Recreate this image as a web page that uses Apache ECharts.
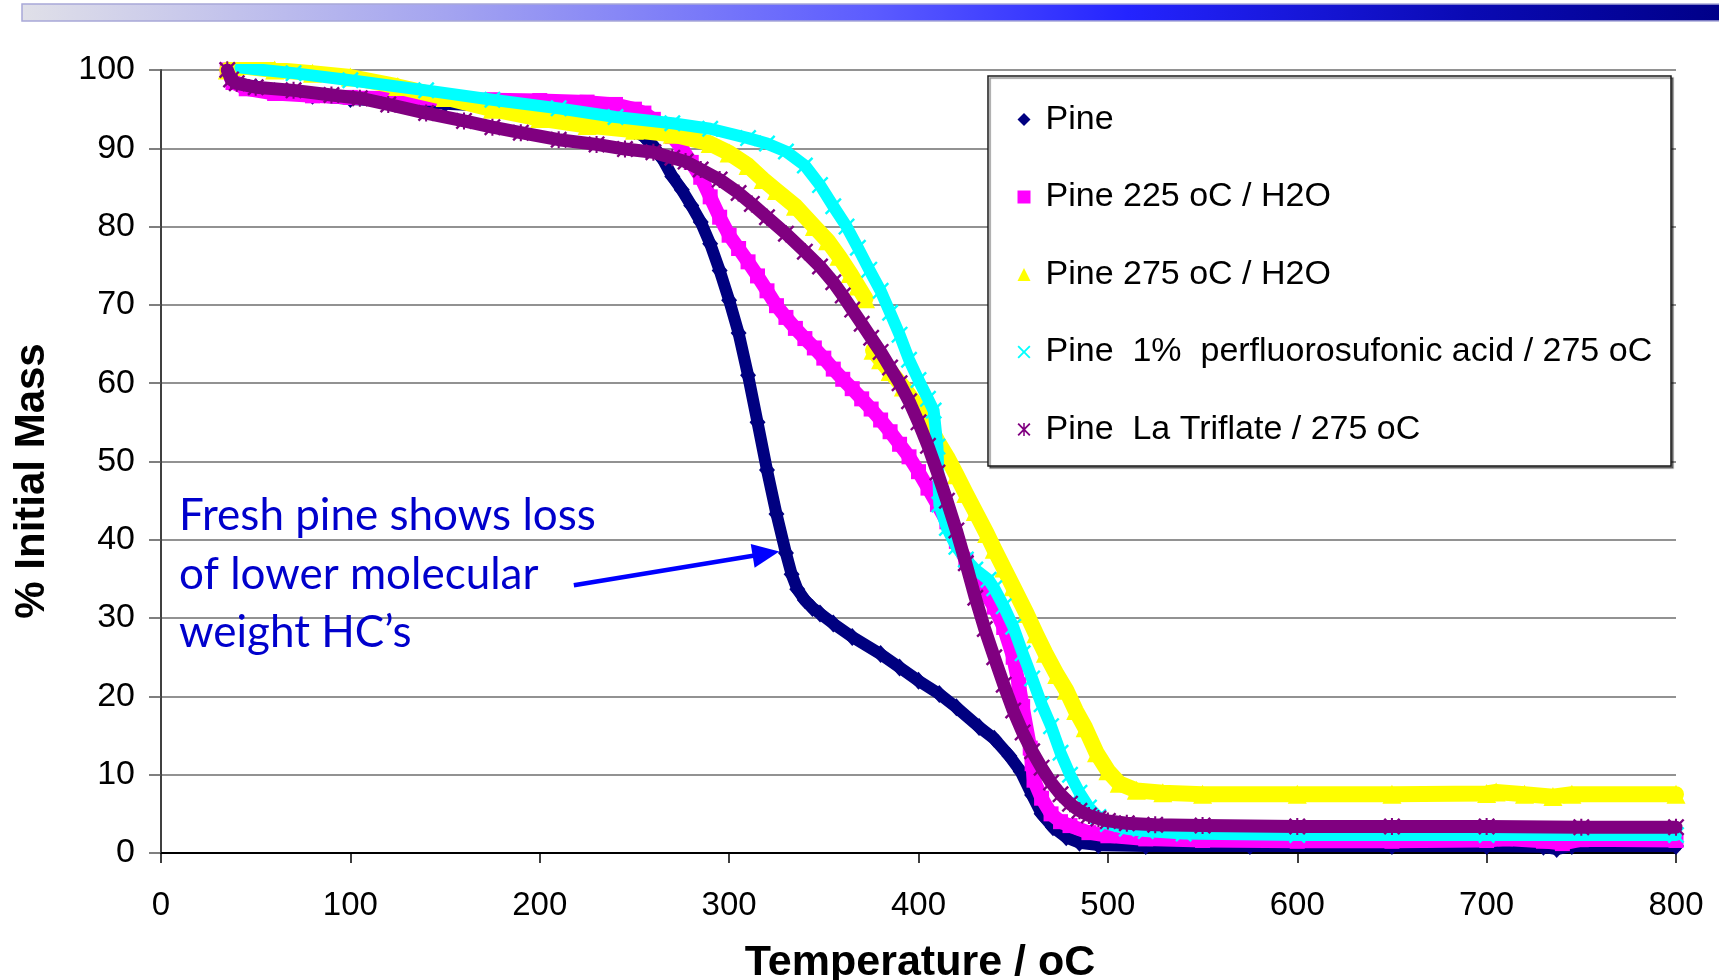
<!DOCTYPE html>
<html>
<head>
<meta charset="utf-8">
<title>TGA of treated pine</title>
<script src="https://cdn.jsdelivr.net/npm/echarts@6/dist/echarts.min.js"></script>
<style>
  html, body { margin: 0; padding: 0; background: #ffffff; overflow: hidden; }
  #chart { width: 1719px; height: 980px; }
</style>
</head>
<body>
<div id="chart"></div>
<script>
// Thermogravimetric curves: [temperature °C, % initial mass]
const seriesNames = [
  'Pine',
  'Pine 225 oC / H2O',
  'Pine 275 oC / H2O',
  'Pine  1%  perfluorosufonic acid / 275 oC',
  'Pine  La Triflate / 275 oC'
];

const pine = [
  [35,100],[40,98.4],[50,97.8],[60,97.3],[80,96.7],[100,96.3],[125,96.0],[150,95.7],
  [175,95.4],[200,95.0],[220,94.6],[235,94.0],[245,93.0],[250,92.2],[255,91.5],[260,90.3],
  [265,88.6],[270,86.4],[275,84.7],[280,82.7],[285,80.6],[290,77.8],[295,74.4],[300,70.6],
  [305,66.4],[310,61.0],[315,55.0],[320,48.9],[325,43.3],[330,38.3],[333,35.6],[336,33.7],
  [340,32.3],[344,31.3],[348,30.6],[355,29.3],[365,27.6],[380,25.4],[390,23.7],[400,22.0],
  [411,20.3],[420,18.6],[432,16.1],[440,14.6],[448,12.4],[454,10.4],[460,7.4],[465,5.0],
  [471,3.3],[478,2.0],[485,1.3],[495,1.0],[520,0.9],[575,0.9],[650,0.9],[700,0.9],
  [730,0.8],[737,0.5],[745,0.9],[800,0.9]
];

const pine225 = [
  [35,100],[38,98.4],[45,97.6],[60,97.0],[80,96.7],[100,96.5],[125,96.4],[150,96.3],
  [175,96.2],[200,96.1],[225,95.9],[240,95.6],[250,95.0],[255,94.5],[260,93.7],[265,92.7],
  [270,91.5],[275,90.0],[280,88.2],[285,86.3],[290,83.8],[295,81.2],[300,78.9],[305,77.2],
  [310,75.5],[315,73.7],[320,71.8],[325,69.9],[330,68.4],[335,67.0],[340,65.7],[345,64.5],
  [350,63.2],[355,61.8],[360,60.5],[365,59.3],[370,58.0],[375,56.7],[380,55.3],[385,53.8],
  [390,52.2],[395,50.6],[400,48.7],[405,46.6],[410,44.5],[415,42.3],[420,39.8],[425,37.4],
  [430,35.4],[435,33.4],[440,31.4],[445,28.8],[450,25.0],[453,21.5],[455,18.7],[459,13.4],
  [460,11.4],[461,9.3],[465,7.0],[470,5.0],[475,4.0],[480,3.5],[490,2.6],[500,2.2],
  [520,1.8],[550,1.6],[600,1.5],[650,1.5],[700,1.6],[710,1.8],[730,1.5],[740,1.2],
  [750,1.7],[800,1.6]
];

const pine275 = [
  [35,100],[45,100.4],[60,100.0],[80,99.6],[100,99.1],[125,97.9],[150,96.5],[175,95.0],
  [200,93.8],[225,92.9],[250,92.3],[270,91.8],[290,90.6],[300,89.4],[310,87.8],[318,86.0],
  [325,84.6],[335,82.6],[345,80.0],[352,78.2],[358,76.2],[364,74.0],[368,72.4],[372,70.8],
  [373.5,'-'],
  [376,64.2],[380,63.0],[385,61.5],[392,59.5],[400,56.8],[405,54.8],[410,52.6],[415,50.6],
  [420,48.3],[425,45.9],[430,43.6],[436,40.8],[440,38.8],[445,36.4],[450,34.0],[457,30.6],
  [462,28.0],[467,25.5],[473,22.8],[478,20.8],[483,18.2],[488,16.0],[494,12.8],[500,10.5],
  [506,8.9],[515,8.0],[529,7.7],[550,7.5],[600,7.5],[650,7.5],[700,7.6],[705,7.8],
  [720,7.5],[735,7.2],[745,7.5],[800,7.5]
];

const pineAcid = [
  [42,100.3],[50,100.1],[70,99.6],[100,98.7],[140,97.4],[175,96.2],[210,95.1],[240,94.0],
  [270,93.2],[290,92.5],[310,91.3],[320,90.6],[330,89.6],[340,87.8],[348,85.3],[355,82.6],
  [362,80.0],[368,77.3],[374,74.5],[380,71.8],[385,69.0],[390,66.2],[395,63.0],[400,60.4],
  [405,58.0],[408,56.5],[410,51.9],[411,44.5],[415,41.5],[420,39.1],[425,37.5],[430,36.2],
  [437,34.9],[440,33.8],[445,31.5],[450,28.9],[455,25.5],[460,22.3],[465,19.0],[470,16.2],
  [475,12.8],[480,10.0],[485,7.7],[490,5.8],[495,4.6],[500,3.7],[510,3.1],[520,2.8],
  [540,2.5],[600,2.3],[700,2.3],[800,2.3]
];

const pineTriflate = [
  [35,100],[37,98.8],[40,98.3],[50,97.8],[70,97.4],[90,96.8],[105,96.4],[120,95.6],
  [140,94.5],[160,93.5],[175,92.7],[190,92.0],[210,91.1],[230,90.5],[245,89.9],[260,89.5],
  [270,88.8],[277,88.3],[285,87.3],[295,86.0],[305,84.3],[312,82.9],[320,81.2],[330,79.1],
  [340,76.8],[348,74.9],[355,72.9],[360,71.2],[365,69.4],[370,67.6],[375,65.8],[380,64.0],
  [385,62.0],[390,60.0],[395,57.7],[400,55.0],[405,52.0],[410,48.6],[415,45.0],[420,41.2],
  [425,37.0],[430,32.6],[435,28.6],[440,25.0],[445,21.5],[450,18.2],[455,15.4],[460,13.0],
  [465,10.9],[470,9.0],[475,7.5],[480,6.3],[485,5.4],[490,4.8],[495,4.4],[500,4.1],
  [510,3.8],[525,3.6],[550,3.5],[600,3.4],[650,3.4],[700,3.4],[750,3.3],[800,3.3]
];

const xTicks = [0, 100, 200, 300, 400, 500, 600, 700, 800];
const yTicks = [0, 10, 20, 30, 40, 50, 60, 70, 80, 90, 100];

const xTitle = 'Temperature / oC';
const yTitle = '% Initial Mass';
const noteLines = ['Fresh pine shows loss', 'of lower molecular', 'weight HC\u2019s'];
// arrow from the note to the Pine curve, in data units
const arrowFrom = [218, 34.2];
const arrowTo = [326.5, 38.5];

// marker shapes
const crossMark = 'path://M1,0L5,4L9,0L10,1L6,5L10,9L9,10L5,6L1,10L0,9L4,5L0,1Z';
const starMark = 'path://M1,0L5,4L9,0L10,1L6,5L10,9L9,10L5,6L1,10L0,9L4,5L0,1Z M4.4,0L5.6,0L5.6,10L4.4,10Z';

const styles = [
  { data: pine,         color: '#000080', symbol: 'diamond',  size: [16, 18], width: 12 },
  { data: pine225,      color: '#FF00FF', symbol: 'rect',     size: 15,       width: 14 },
  { data: pine275,      color: '#FFFF00', symbol: 'triangle', size: 19,       width: 16 },
  { data: pineAcid,     color: '#00FFFF', symbol: crossMark,  size: 17,       width: 12 },
  { data: pineTriflate, color: '#800080', symbol: starMark,   size: 17,       width: 13 }
];

const FONT = '"Liberation Sans", Arial, sans-serif';

const chart = echarts.init(document.getElementById('chart'), null, { renderer: 'canvas' });

const option = {
  backgroundColor: '#ffffff',
  animation: false,
  grid: { left: 161, right: 43, top: 70, bottom: 127, containLabel: false, outerBoundsMode: 'none' },
  xAxis: {
    type: 'value',
    min: xTicks[0],
    max: xTicks[xTicks.length - 1],
    interval: xTicks[1] - xTicks[0],
    axisLine: { show: true, lineStyle: { color: '#000', width: 2 } },
    axisTick: { show: true, length: 10, lineStyle: { color: '#000', width: 1.5 } },
    axisLabel: { fontFamily: FONT, fontSize: 33, color: '#000', margin: 36 },
    splitLine: { show: false }
  },
  yAxis: {
    type: 'value',
    min: yTicks[0],
    max: yTicks[yTicks.length - 1],
    interval: yTicks[1] - yTicks[0],
    axisLine: { show: true, lineStyle: { color: '#404040', width: 2 } },
    axisTick: { show: true, inside: false, length: 12, lineStyle: { color: '#555', width: 1.5 } },
    axisLabel: { fontFamily: FONT, fontSize: 34, color: '#000', margin: 26 },
    splitLine: { show: true, lineStyle: { color: '#6e6e6e', width: 1.6 } }
  },
  legend: {
    orient: 'vertical',
    left: 1017.5,
    top: 102.5,
    padding: 0,
    itemGap: 43.5,
    itemWidth: 13,
    itemHeight: 13,
    selectedMode: false,
    z: 6,
    textStyle: { fontFamily: FONT, fontSize: 34, lineHeight: 34, color: '#000', padding: [0, 0, 0, 10] },
    data: seriesNames.map((n, i) => ({ name: n, icon: styles[i].symbol }))
  },
  series: styles.map((s, i) => ({
    name: seriesNames[i],
    type: 'line',
    data: s.data,
    symbol: s.symbol,
    symbolSize: s.size,
    showSymbol: true,
    showAllSymbol: true,
    connectNulls: false,
    clip: true,
    z: 2 + i * 0.1,
    itemStyle: { color: s.color, borderWidth: 0 },
    lineStyle: { color: s.color, width: s.width, cap: 'round', join: 'round' },
    emphasis: { disabled: true }
  }))
};

chart.setOption(option);

// overlay: title bar, axis titles, legend frame, note and arrow
const p0 = chart.convertToPixel({ gridIndex: 0 }, arrowFrom);
const p1 = chart.convertToPixel({ gridIndex: 0 }, arrowTo);
const dx = p1[0] - p0[0], dy = p1[1] - p0[1];
const len = Math.sqrt(dx * dx + dy * dy);
const ux = dx / len, uy = dy / len;
const headLen = 27, headHalf = 12;
const base = [p1[0] - ux * headLen, p1[1] - uy * headLen];
const head = [
  [p1[0], p1[1]],
  [base[0] - uy * headHalf, base[1] + ux * headHalf],
  [base[0] + uy * headHalf, base[1] - ux * headHalf]
];

chart.setOption({
  graphic: [
    {
      type: 'rect', id: 'titleBar', z: 10,
      shape: { x: 22, y: 4, width: 1700, height: 17 },
      style: {
        fill: new echarts.graphic.LinearGradient(0, 0, 1, 0, [
          { offset: 0, color: '#e0e0e8' },
          { offset: 0.25, color: '#a4a4f0' },
          { offset: 0.5, color: '#5c5cff' },
          { offset: 0.65, color: '#2424ff' },
          { offset: 0.85, color: '#0a0ab4' },
          { offset: 1, color: '#000088' }
        ]),
        stroke: '#a8a8d8', lineWidth: 1.5
      }
    },
    {
      type: 'text', id: 'xTitle', z: 10,
      x: 920, y: 963,
      style: {
        text: xTitle, fontFamily: FONT, fontSize: 43, fontWeight: 'bold', fill: '#000',
        align: 'center', verticalAlign: 'middle'
      }
    },
    {
      type: 'text', id: 'yTitle', z: 10,
      x: 32, y: 481, rotation: Math.PI / 2,
      style: {
        text: yTitle, fontFamily: FONT, fontSize: 42, fontWeight: 'bold', fill: '#000',
        align: 'center', verticalAlign: 'middle'
      }
    },
    {
      type: 'rect', id: 'legendFrame', z: 5,
      shape: { x: 988, y: 76, width: 683, height: 390 },
      style: { fill: '#ffffff', stroke: '#1a1a1a', lineWidth: 1.5,
               shadowColor: 'rgba(0,0,0,0.45)', shadowOffsetX: 2, shadowOffsetY: 2, shadowBlur: 1 }
    },
    {
      type: 'text', id: 'note', z: 10,
      left: 179, top: 487,
      style: {
        text: noteLines.join('\n'),
        fontFamily: 'Lato, "Open Sans", sans-serif',
        fontSize: 44,
        lineHeight: 58.5,
        fill: '#0000CC'
      }
    },
    {
      type: 'line', id: 'arrowShaft', z: 10,
      shape: { x1: p0[0], y1: p0[1], x2: base[0] + ux * 2, y2: base[1] + uy * 2 },
      style: { stroke: '#0000FF', lineWidth: 4.5 }
    },
    {
      type: 'polygon', id: 'arrowHead', z: 10,
      shape: { points: head },
      style: { fill: '#0000FF' }
    }
  ]
});
</script>
</body>
</html>
